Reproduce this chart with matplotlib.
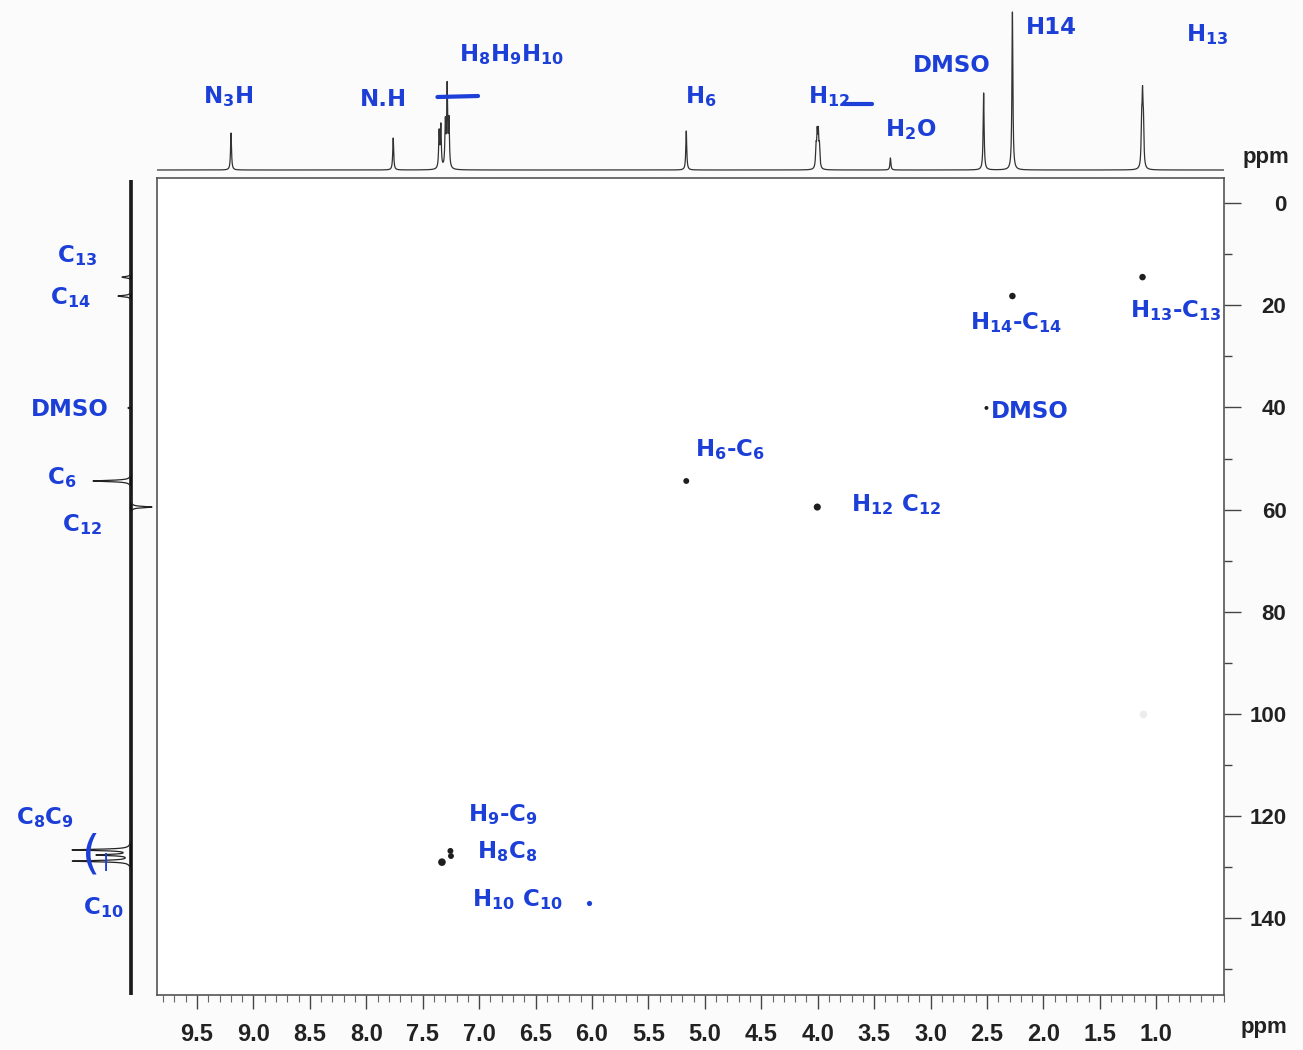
import numpy as np
import matplotlib
matplotlib.use("Agg")
import matplotlib.pyplot as plt

plt.rcParams['mathtext.default'] = 'bf'

# --- data ---
# 1H projection (top): shift in ppm, height (arbitrary, px-like)
h_shift = [9.199, 7.762, 7.355, 7.340, 7.300, 7.284, 7.268, 5.165,
           4.015, 4.005, 3.995, 3.985, 3.356, 2.530, 2.275, 1.130, 1.122, 1.114]
h_height = [37, 32, 36, 42, 44, 80, 46, 39,
            20, 32, 32, 20, 12, 77, 158, 40, 62, 40]

# 13C projection (left): shift in ppm, intensity (negative = drawn to the right)
c_shift = [14.5, 18.2, 40.1, 54.4, 59.5, 126.6, 127.6, 128.8]
c_int = [9, 13, 3, 38, -21, 58, 33, 58]

# HSQC cross peaks: (1H ppm, 13C ppm, marker size)
xp_h = [1.122, 2.275, 2.505, 5.165, 4.004, 7.330, 7.255, 7.250]
xp_c = [14.5, 18.2, 40.1, 54.4, 59.5, 129.0, 126.8, 127.8]
xp_s = [22, 22, 8, 18, 26, 30, 18, 18]

x_ticks = [9.5, 9.0, 8.5, 8.0, 7.5, 7.0, 6.5, 6.0, 5.5, 5.0, 4.5, 4.0, 3.5, 3.0, 2.5, 2.0, 1.5, 1.0]
y_ticks = [0, 20, 40, 60, 80, 100, 120, 140]

BLUE = '#1c3fd8'
W, H = 1303, 1050


def fx(px):
    return px / W


def fy(py):
    return 1 - py / H


fig = plt.figure(figsize=(W / 100, H / 100), dpi=100)
fig.patch.set_facecolor('#fbfbfb')

x_lo, x_hi = 9.855, 0.40
y_top, y_bot = -4.9, 155.0

# main HSQC box
ax = fig.add_axes([fx(157), fy(995), fx(1224 - 157), fy(178) - fy(995)])
ax.set_facecolor('white')
ax.set_xlim(x_lo, x_hi)
ax.set_ylim(y_bot, y_top)
ax.scatter(xp_h, xp_c, s=xp_s, color='#1e1e1e', zorder=3, linewidths=0)
ax.scatter([1.12], [100.0], s=30, color='#ececec', linewidths=0)
for sp in ax.spines.values():
    sp.set_color('#555555')
    sp.set_linewidth(1.2)
ax.yaxis.tick_right()
ax.set_yticks(y_ticks)
ax.set_yticks(np.arange(0, 160, 10), minor=True)
ax.set_xticks(x_ticks)
ax.set_xticks(np.arange(0.4, 9.86, 0.1), minor=True)
ax.tick_params(axis='y', which='major', length=12, width=1, color='#444')
ax.tick_params(axis='y', which='minor', length=6, width=1, color='#444')
ax.tick_params(axis='x', which='major', length=10, width=1, color='#444', pad=10)
ax.tick_params(axis='x', which='minor', length=5, width=0.8, color='#666')
ax.set_xticklabels([f'{v:.1f}' for v in x_ticks], fontsize=17, fontweight='bold',
                   family='Liberation Sans', color='#222')
ax.set_yticklabels([str(v) for v in y_ticks], fontsize=16, fontweight='bold',
                   family='Liberation Sans', color='#222')
for lab in ax.get_yticklabels():
    lab.set_horizontalalignment('right')
ax.yaxis.set_tick_params(pad=33)

# top 1H trace
axt = fig.add_axes([fx(157), fy(174), fx(1224 - 157), fy(4) - fy(174)])
axt.set_xlim(x_lo, x_hi)
axt.set_ylim(-4, 166)
axt.axis('off')
hx = np.linspace(9.85, 0.40, 30000)
g = 0.005
hy = np.zeros_like(hx)
for s0, h0 in zip(h_shift, h_height):
    hy += h0 * g ** 2 / ((hx - s0) ** 2 + g ** 2)
axt.plot(hx, np.minimum(hy, 165), color='#333333', lw=0.9)

# left 13C trace
axl = fig.add_axes([fx(40), fy(995), fx(156 - 40), fy(180) - fy(995)])
axl.set_xlim(91, -25)
axl.set_ylim(y_bot, y_top + (y_bot - y_top) * 2 / 817)
axl.axis('off')
cy = np.linspace(y_top + 0.5, y_bot, 20000)
gc = 0.15
cx = np.zeros_like(cy)
for s0, i0 in zip(c_shift, c_int):
    cx += i0 * gc ** 2 / ((cy - s0) ** 2 + gc ** 2)
axl.plot([0, 0], [y_top + 0.5, y_bot], color='#111111', lw=2.6)
axl.plot(cx, cy, color='#222222', lw=0.9)

# ppm axis labels
fig.text(fx(1266), fy(157), 'ppm', fontsize=16, fontweight='bold', family='Liberation Sans',
         ha='center', va='center', color='#222')
fig.text(fx(1264), fy(1027), 'ppm', fontsize=16, fontweight='bold',
         family='Liberation Sans', ha='center', va='center', color='#222')

# handwritten notes
hw = dict(color=BLUE, fontsize=16.5, fontweight='bold', ha='center', va='center')

top_notes = [
    (9.225, 73, 'N$_3$H'), (7.85, 70, 'N.H'), (6.71, 115, 'H$_8$H$_9$H$_{10}$'),
    (5.04, 73, 'H$_6$'), (3.90, 73, 'H$_{12}$'), (3.18, 40, 'H$_2$O'),
    (2.81, 105, 'DMSO'), (1.93, 142, 'H14'), (0.55, 135, 'H$_{13}$'),
]
for xv, yv, t in top_notes:
    axt.text(xv, yv, t, **hw)
axt.plot([7.37, 7.01], [73, 74], color=BLUE, lw=3, solid_capstyle='round')
axt.plot([3.76, 3.52], [66, 66], color=BLUE, lw=3, solid_capstyle='round')

left_notes = [
    (77, 256, 'C$_{13}$'), (70, 298, 'C$_{14}$'), (70, 410, 'DMSO'),
    (62, 478, 'C$_6$'), (82, 525, 'C$_{12}$'), (45, 818, 'C$_8$C$_9$'),
    (103, 908, 'C$_{10}$'),
]
for px, py, t in left_notes:
    fig.text(fx(px), fy(py), t, **hw)
fig.text(fx(91), fy(855), '(', color=BLUE, fontsize=34, ha='center', va='center')
fig.text(fx(106), fy(862), '|', color=BLUE, fontsize=12, fontweight='bold', ha='center', va='center')

main_notes = [
    (0.83, 311, 'H$_{13}$-C$_{13}$'), (2.24, 323, 'H$_{14}$-C$_{14}$'), (2.12, 411, 'DMSO'),
    (4.775, 450, 'H$_6$-C$_6$'), (3.31, 505, 'H$_{12}$ C$_{12}$'), (6.79, 815, 'H$_9$-C$_9$'),
    (6.75, 852, 'H$_8$C$_8$'), (6.66, 900, 'H$_{10}$ C$_{10}$'),
]
for xv, py, t in main_notes:
    ax.text(xv, (py - 203) / 5.11, t, **hw)
ax.scatter([6.03], [137.0], s=14, color=BLUE, linewidths=0)

fig.savefig('out.png', dpi=100, facecolor=fig.get_facecolor())
